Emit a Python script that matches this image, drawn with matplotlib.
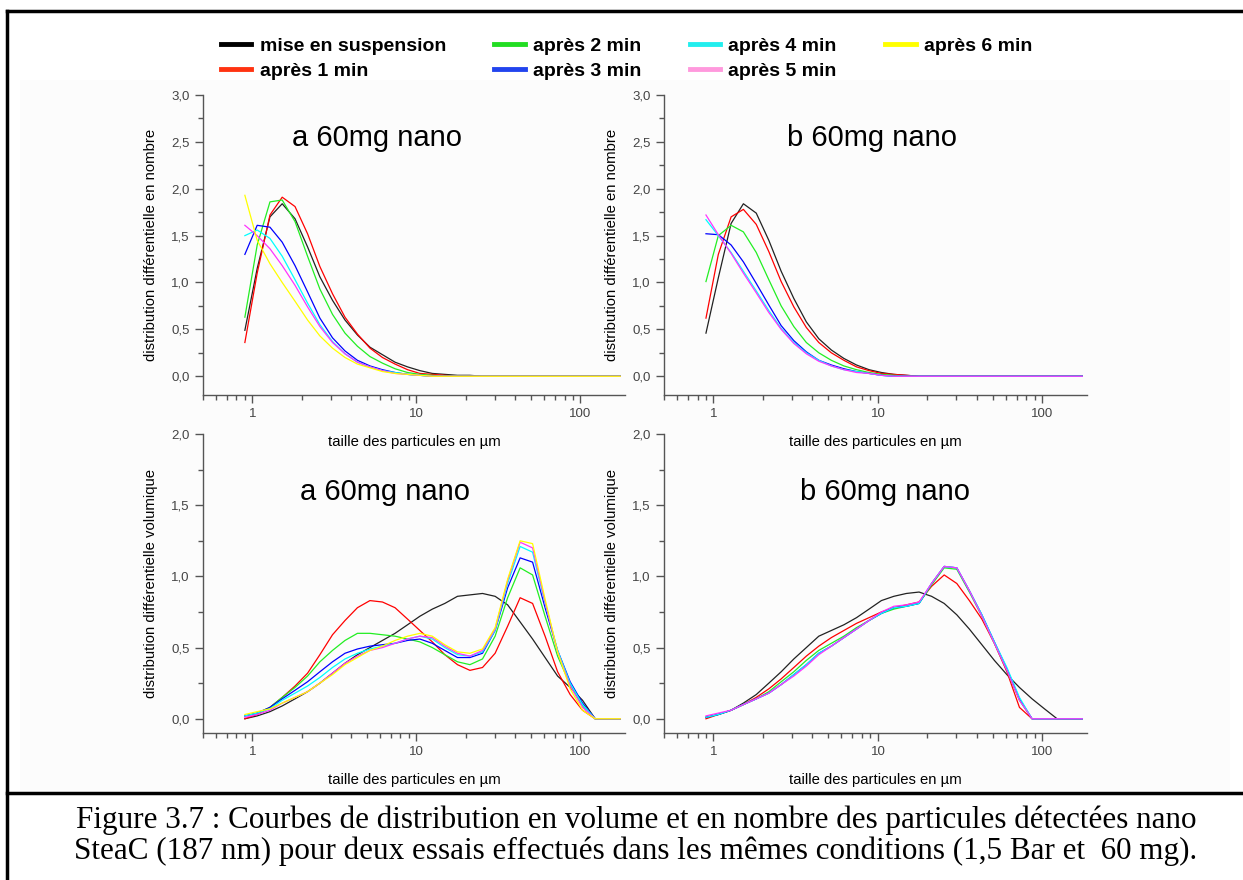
#!/usr/bin/env python
"""distribution granulometrique nano SteaC - 4 panneaux"""
import matplotlib
matplotlib.use('Agg')
import matplotlib.pyplot as plt
from matplotlib.ticker import FuncFormatter, MultipleLocator, LogLocator, NullFormatter
from matplotlib.lines import Line2D
from matplotlib.patches import Rectangle

# classes de taille (µm)
taille = [0.90, 1.07, 1.28, 1.52, 1.82, 2.17, 2.58, 3.08, 3.67, 4.37, 5.21, 6.21,
          7.41, 8.83, 10.5, 12.5, 14.9, 17.8, 21.2, 25.3, 30.2, 36.0, 42.9, 51.1,
          60.9, 72.6, 86.6, 103, 123, 147, 175]

labels = ['mise en suspension', 'après 1 min', 'après 2 min', 'après 3 min',
          'après 4 min', 'après 5 min', 'après 6 min']

# --- a : distribution en nombre
a_nb_0 = [0.49, 1.15, 1.70, 1.84, 1.68, 1.38, 1.06, 0.81, 0.60, 0.44, 0.31, 0.23, 0.15, 0.10,
          0.06, 0.03, 0.02, 0.01, 0.01, 0, 0, 0, 0, 0, 0, 0, 0, 0, 0, 0, 0]
a_nb_1 = [0.36, 1.10, 1.72, 1.91, 1.81, 1.52, 1.17, 0.88, 0.63, 0.45, 0.30, 0.20, 0.13, 0.07,
          0.03, 0.02, 0.01, 0, 0, 0, 0, 0, 0, 0, 0, 0, 0, 0, 0, 0, 0]
a_nb_2 = [0.63, 1.40, 1.86, 1.88, 1.65, 1.28, 0.93, 0.66, 0.46, 0.32, 0.21, 0.14, 0.08, 0.04,
          0.02, 0.01, 0, 0, 0, 0, 0, 0, 0, 0, 0, 0, 0, 0, 0, 0, 0]
a_nb_3 = [1.30, 1.61, 1.59, 1.43, 1.18, 0.90, 0.62, 0.41, 0.27, 0.17, 0.11, 0.07, 0.04, 0.02,
          0.01, 0, 0, 0, 0, 0, 0, 0, 0, 0, 0, 0, 0, 0, 0, 0, 0]
a_nb_4 = [1.50, 1.56, 1.47, 1.28, 1.03, 0.78, 0.55, 0.37, 0.24, 0.15, 0.10, 0.06, 0.04, 0.02,
          0.01, 0, 0, 0, 0, 0, 0, 0, 0, 0, 0, 0, 0, 0, 0, 0, 0]
a_nb_5 = [1.61, 1.50, 1.36, 1.18, 0.97, 0.74, 0.53, 0.36, 0.24, 0.15, 0.10, 0.06, 0.03, 0.02,
          0.01, 0, 0, 0, 0, 0, 0, 0, 0, 0, 0, 0, 0, 0, 0, 0, 0]
a_nb_6 = [1.93, 1.45, 1.20, 1.00, 0.80, 0.60, 0.43, 0.30, 0.20, 0.13, 0.09, 0.05, 0.03, 0.02,
          0.01, 0, 0, 0, 0, 0, 0, 0, 0, 0, 0, 0, 0, 0, 0, 0, 0]

# --- b : distribution en nombre
b_nb_0 = [0.46, 1.05, 1.63, 1.84, 1.74, 1.45, 1.12, 0.83, 0.58, 0.40, 0.28, 0.19, 0.12, 0.07,
          0.04, 0.02, 0.01, 0, 0, 0, 0, 0, 0, 0, 0, 0, 0, 0, 0, 0, 0]
b_nb_1 = [0.62, 1.30, 1.70, 1.78, 1.62, 1.33, 1.01, 0.74, 0.52, 0.36, 0.25, 0.17, 0.10, 0.06,
          0.03, 0.02, 0.01, 0, 0, 0, 0, 0, 0, 0, 0, 0, 0, 0, 0, 0, 0]
b_nb_2 = [1.01, 1.50, 1.61, 1.54, 1.32, 1.03, 0.75, 0.53, 0.36, 0.25, 0.17, 0.11, 0.07, 0.04,
          0.02, 0.01, 0, 0, 0, 0, 0, 0, 0, 0, 0, 0, 0, 0, 0, 0, 0]
b_nb_3 = [1.52, 1.51, 1.40, 1.22, 0.99, 0.76, 0.54, 0.38, 0.26, 0.17, 0.12, 0.08, 0.05, 0.03,
          0.01, 0, 0, 0, 0, 0, 0, 0, 0, 0, 0, 0, 0, 0, 0, 0, 0]
b_nb_4 = [1.67, 1.50, 1.32, 1.12, 0.91, 0.70, 0.51, 0.36, 0.25, 0.17, 0.11, 0.07, 0.05, 0.03,
          0.01, 0, 0, 0, 0, 0, 0, 0, 0, 0, 0, 0, 0, 0, 0, 0, 0]
b_nb_5 = [1.72, 1.51, 1.31, 1.10, 0.89, 0.68, 0.50, 0.35, 0.24, 0.16, 0.11, 0.07, 0.04, 0.03,
          0.01, 0, 0, 0, 0, 0, 0, 0, 0, 0, 0, 0, 0, 0, 0, 0, 0]

# --- a : distribution volumique
a_vol_0 = [0.00, 0.02, 0.05, 0.09, 0.14, 0.19, 0.25, 0.32, 0.39, 0.45, 0.50, 0.55, 0.60, 0.66,
           0.72, 0.77, 0.81, 0.86, 0.87, 0.88, 0.86, 0.80, 0.68, 0.56, 0.43, 0.30, 0.22, 0.13,
           0, 0, 0]
a_vol_1 = [0.00, 0.03, 0.08, 0.15, 0.23, 0.32, 0.45, 0.59, 0.69, 0.78, 0.83, 0.82, 0.78, 0.70,
           0.62, 0.54, 0.45, 0.38, 0.34, 0.36, 0.46, 0.65, 0.85, 0.81, 0.58, 0.33, 0.17, 0.06,
           0, 0, 0]
a_vol_2 = [0.02, 0.04, 0.08, 0.15, 0.22, 0.30, 0.40, 0.48, 0.55, 0.60, 0.60, 0.59, 0.58, 0.56,
           0.54, 0.50, 0.45, 0.40, 0.38, 0.42, 0.58, 0.85, 1.06, 1.01, 0.72, 0.44, 0.24, 0.09,
           0, 0, 0]
a_vol_3 = [0.02, 0.04, 0.08, 0.14, 0.20, 0.26, 0.33, 0.40, 0.46, 0.49, 0.51, 0.52, 0.53, 0.55,
           0.56, 0.53, 0.48, 0.43, 0.43, 0.46, 0.62, 0.92, 1.13, 1.10, 0.78, 0.48, 0.26, 0.11,
           0, 0, 0]
a_vol_4 = [0.02, 0.04, 0.07, 0.13, 0.18, 0.23, 0.29, 0.36, 0.42, 0.46, 0.49, 0.51, 0.53, 0.56,
           0.58, 0.56, 0.50, 0.45, 0.44, 0.47, 0.62, 0.95, 1.21, 1.17, 0.81, 0.48, 0.25, 0.10,
           0, 0, 0]
a_vol_5 = [0.01, 0.03, 0.06, 0.11, 0.15, 0.19, 0.25, 0.32, 0.39, 0.44, 0.48, 0.50, 0.53, 0.56,
           0.58, 0.57, 0.51, 0.46, 0.44, 0.48, 0.63, 0.97, 1.24, 1.20, 0.82, 0.47, 0.23, 0.08,
           0, 0, 0]
a_vol_6 = [0.03, 0.05, 0.07, 0.11, 0.15, 0.19, 0.25, 0.31, 0.38, 0.43, 0.48, 0.51, 0.55, 0.58,
           0.60, 0.58, 0.52, 0.47, 0.46, 0.49, 0.64, 0.98, 1.25, 1.23, 0.84, 0.47, 0.21, 0.06,
           0, 0, 0]

# --- b : distribution volumique
b_vol_0 = [0.01, 0.03, 0.06, 0.11, 0.17, 0.25, 0.33, 0.42, 0.50, 0.58, 0.62, 0.66, 0.71, 0.77,
           0.83, 0.86, 0.88, 0.89, 0.86, 0.81, 0.73, 0.63, 0.52, 0.41, 0.31, 0.22, 0.14, 0.07,
           0, 0, 0]
b_vol_1 = [0.00, 0.03, 0.06, 0.10, 0.15, 0.21, 0.28, 0.36, 0.44, 0.51, 0.57, 0.62, 0.67, 0.71,
           0.75, 0.78, 0.80, 0.82, 0.93, 1.01, 0.95, 0.83, 0.70, 0.53, 0.33, 0.08, 0, 0,
           0, 0, 0]
b_vol_2 = [0.01, 0.03, 0.06, 0.10, 0.14, 0.19, 0.26, 0.33, 0.41, 0.48, 0.53, 0.58, 0.64, 0.69,
           0.74, 0.77, 0.79, 0.81, 0.94, 1.06, 1.05, 0.89, 0.72, 0.53, 0.34, 0.13, 0, 0,
           0, 0, 0]
b_vol_3 = [0.01, 0.03, 0.06, 0.10, 0.14, 0.18, 0.24, 0.31, 0.38, 0.46, 0.51, 0.57, 0.63, 0.69,
           0.74, 0.78, 0.79, 0.81, 0.95, 1.07, 1.06, 0.90, 0.73, 0.54, 0.35, 0.14, 0, 0,
           0, 0, 0]
b_vol_4 = [0.01, 0.03, 0.06, 0.10, 0.14, 0.18, 0.24, 0.31, 0.38, 0.46, 0.51, 0.57, 0.63, 0.69,
           0.74, 0.78, 0.79, 0.81, 0.95, 1.07, 1.06, 0.90, 0.73, 0.54, 0.36, 0.15, 0, 0,
           0, 0, 0]
b_vol_5 = [0.02, 0.04, 0.06, 0.10, 0.14, 0.18, 0.24, 0.30, 0.37, 0.45, 0.51, 0.57, 0.63, 0.69,
           0.75, 0.79, 0.80, 0.82, 0.95, 1.07, 1.06, 0.90, 0.72, 0.53, 0.34, 0.13, 0, 0,
           0, 0, 0]

couleurs = ['#222222', '#ff0000', '#22ee22', '#0000ff', '#00ffff', '#ff33ff', '#ffff00']
couleurs_leg = ['#000000', '#ff3311', '#22dd22', '#2244ee', '#22eeee', '#ff99dd', '#ffff00']

panneaux = [
    ([a_nb_0, a_nb_1, a_nb_2, a_nb_3, a_nb_4, a_nb_5, a_nb_6], 'a 60mg nano',
     'distribution différentielle en nombre', (-0.2, 3.0), (0.412, 0.857)),
    ([b_nb_0, b_nb_1, b_nb_2, b_nb_3, b_nb_4, b_nb_5], 'b 60mg nano',
     'distribution différentielle en nombre', (-0.2, 3.0), (0.491, 0.857)),
    ([a_vol_0, a_vol_1, a_vol_2, a_vol_3, a_vol_4, a_vol_5, a_vol_6], 'a 60mg nano',
     'distribution différentielle volumique', (-0.1, 2.0), (0.431, 0.807)),
    ([b_vol_0, b_vol_1, b_vol_2, b_vol_3, b_vol_4, b_vol_5], 'b 60mg nano',
     'distribution différentielle volumique', (-0.1, 2.0), (0.522, 0.807)),
]

W, H = 1243, 880
positions = [(203, 95, 625, 395), (664, 95, 1087, 395),
             (203, 434, 625, 733), (664, 434, 1087, 733)]

plt.rcParams['font.family'] = ['Liberation Sans', 'DejaVu Sans']

fig = plt.figure(figsize=(W / 100, H / 100), dpi=100)

# fond légèrement gris de la zone graphique + cadres
fig.patches.append(Rectangle((20 / W, 1 - 790 / H), 1210 / W, 710 / H,
                             transform=fig.transFigure, facecolor='#fcfcfc',
                             edgecolor='none', zorder=-5))
fig.add_artist(Line2D([7 / W, 7 / W], [0, 1 - 11 / H], color='black', lw=2.5,
                      transform=fig.transFigure))
fig.add_artist(Line2D([7 / W, 1], [1 - 11 / H, 1 - 11 / H], color='black', lw=2.5,
                      transform=fig.transFigure))
fig.add_artist(Line2D([7 / W, 1], [1 - 793 / H, 1 - 793 / H], color='black', lw=2.5,
                      transform=fig.transFigure))

virgule = FuncFormatter(lambda v, p: ('%.1f' % v).replace('.', ','))
gris = '#555555'

for (series, titre, ylab, ylim, tpos), (x0, y0, x1, y1) in zip(panneaux, positions):
    ax = fig.add_axes([x0 / W, 1 - y1 / H, (x1 - x0) / W, (y1 - y0) / H])
    ax.patch.set_alpha(0)
    for s, c in zip(series, couleurs):
        ax.plot(taille, s, color=c, lw=0.9)
    ax.set_xscale('log')
    ax.set_xlim(0.5, 187)
    ax.set_ylim(*ylim)
    ax.spines['top'].set_visible(False)
    ax.spines['right'].set_visible(False)
    for sp in ('left', 'bottom'):
        ax.spines[sp].set_color(gris)
        ax.spines[sp].set_linewidth(1.0)
    ax.yaxis.set_major_locator(MultipleLocator(0.5))
    ax.yaxis.set_minor_locator(MultipleLocator(0.25))
    ax.yaxis.set_major_formatter(virgule)
    ax.xaxis.set_major_locator(LogLocator(base=10))
    ax.xaxis.set_minor_locator(LogLocator(base=10, subs=range(2, 10)))
    ax.xaxis.set_minor_formatter(NullFormatter())
    ax.xaxis.set_major_formatter(FuncFormatter(lambda v, p: '%g' % v))
    ax.tick_params(which='major', direction='out', length=6, width=1, color=gris,
                   labelcolor='#444444', labelsize=9.5)
    ax.tick_params(which='minor', direction='out', length=3.5, width=1, color=gris)
    ax.set_ylabel(ylab, fontsize=10.7)
    ax.yaxis.set_label_coords(-0.107, 0.5)
    ax.set_xlabel('taille des particules en µm', fontsize=10.7)
    ax.xaxis.set_label_coords(0.5, -0.133)
    ax.text(tpos[0], tpos[1], titre, transform=ax.transAxes, ha='center', va='center',
            fontsize=21)

handles = [Line2D([], [], color=c, lw=3.5) for c in couleurs_leg]
fig.legend(handles, labels, ncol=4, loc='upper left', bbox_to_anchor=(221 / W, 1 - 37 / H),
           frameon=False, borderpad=0, borderaxespad=0, handlelength=1.55,
           handletextpad=0.43, columnspacing=2.5, labelspacing=0.4,
           prop={'weight': 'bold', 'size': 14})

caption = ('Figure 3.7 : Courbes de distribution en volume et en nombre des particules détectées nano\n'
           'SteaC (187 nm) pour deux essais effectués dans les mêmes conditions (1,5 Bar et  60 mg).')
fig.text(636 / W, 1 - 836 / H, caption, ha='center', va='center', fontsize=22.4,
         family='Liberation Serif', linespacing=1.08)

fig.savefig('out.png', dpi=100)
